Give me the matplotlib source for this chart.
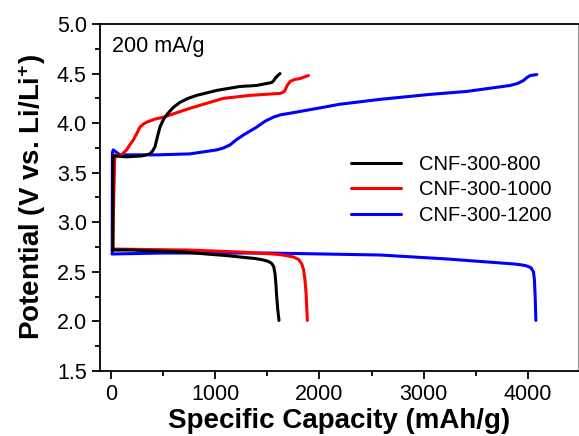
import numpy as np
import matplotlib as mpl
mpl.use('Agg')
import matplotlib.pyplot as plt
from matplotlib.ticker import MultipleLocator

mpl.rcParams['font.family'] = ['Liberation Sans', 'DejaVu Sans']
mpl.rcParams['mathtext.fontset'] = 'custom'
mpl.rcParams['mathtext.rm'] = 'Liberation Sans:bold'
mpl.rcParams['mathtext.default'] = 'rm'

# charge curves (capacity mAh/g, potential V)
cap_800_ch = [18, 19, 25, 150, 300, 374, 400, 422, 445, 470, 505, 547, 600, 662, 740, 822, 1014, 1238,
              1398, 1542, 1562, 1574, 1600, 1622]
v_800_ch = [2.72, 3.66, 3.67, 3.66, 3.67, 3.69, 3.72, 3.76, 3.86, 3.96, 4.04, 4.10, 4.16, 4.21, 4.25, 4.28,
            4.33, 4.37, 4.38, 4.41, 4.43, 4.45, 4.48, 4.50]
cap_1000_ch = [18, 26, 36, 45, 90, 120, 150, 180, 214, 250, 278, 310, 342, 420, 502, 758, 1078, 1334, 1622,
               1650, 1670, 1690, 1718, 1760, 1814, 1894]
v_1000_ch = [2.73, 3.20, 3.64, 3.68, 3.67, 3.70, 3.73, 3.78, 3.83, 3.90, 3.96, 3.99, 4.01, 4.04, 4.06, 4.15,
             4.25, 4.28, 4.30, 4.31, 4.33, 4.38, 4.42, 4.44, 4.45, 4.48]
cap_1200_ch = [12, 14, 22, 86, 438, 758, 1014, 1080, 1142, 1200, 1270, 1398, 1480, 1558, 1630, 1718, 2037,
               2191, 2582, 3061, 3414, 3829, 3900, 3957, 3990, 4021, 4085]
v_1200_ch = [2.69, 3.70, 3.73, 3.68, 3.68, 3.69, 3.73, 3.75, 3.78, 3.83, 3.88, 3.96, 4.02, 4.06, 4.085, 4.10,
             4.16, 4.19, 4.24, 4.29, 4.32, 4.38, 4.40, 4.43, 4.46, 4.48, 4.49]

# discharge curves
cap_800_dis = [14, 200, 438, 700, 918, 1100, 1238, 1380, 1462, 1510, 1542, 1562, 1574, 1582, 1590, 1600, 1612]
v_800_dis = [2.72, 2.72, 2.71, 2.70, 2.68, 2.665, 2.65, 2.635, 2.62, 2.605, 2.585, 2.55, 2.48, 2.38, 2.25,
             2.12, 2.01]
cap_1000_dis = [14, 758, 1238, 1558, 1650, 1750, 1800, 1830, 1848, 1862, 1872, 1878, 1884]
v_1000_dis = [2.73, 2.72, 2.70, 2.68, 2.67, 2.65, 2.625, 2.58, 2.52, 2.41, 2.28, 2.14, 2.01]
cap_1200_dis = [10, 500, 1500, 2582, 3222, 3861, 3940, 3989, 4030, 4053, 4062, 4069, 4076]
v_1200_dis = [2.68, 2.69, 2.69, 2.67, 2.63, 2.58, 2.57, 2.56, 2.54, 2.50, 2.42, 2.25, 2.01]

labels = ['CNF-300-800', 'CNF-300-1000', 'CNF-300-1200']

fig = plt.figure(figsize=(5.79, 4.36), dpi=100)
ax = fig.add_axes([100 / 579, 1 - 371 / 436, 478 / 579, 347 / 436])

kw = dict(lw=2.2, solid_joinstyle='round', solid_capstyle='round')
hb, = ax.plot(cap_1200_ch, v_1200_ch, color='b', **kw)
ax.plot(cap_1200_dis, v_1200_dis, color='b', **kw)
hr, = ax.plot(cap_1000_ch, v_1000_ch, color='r', **kw)
ax.plot(cap_1000_dis, v_1000_dis, color='r', **kw)
hk, = ax.plot(cap_800_ch, v_800_ch, color='k', **kw)
ax.plot(cap_800_dis, v_800_dis, color='k', **kw)

ax.set_xlim(-105, 4480)
ax.set_ylim(1.5, 5.0)
ax.xaxis.set_major_locator(MultipleLocator(1000))
ax.xaxis.set_minor_locator(MultipleLocator(500))
ax.yaxis.set_major_locator(MultipleLocator(0.5))
ax.yaxis.set_minor_locator(MultipleLocator(0.25))
ax.tick_params(which='both', direction='out', labelsize=15.5, width=1.3)
ax.tick_params(which='major', length=6)
ax.tick_params(which='minor', length=3.5)
ax.yaxis.set_major_formatter(mpl.ticker.FormatStrFormatter('%.1f'))
for s in ax.spines.values():
    s.set_linewidth(1.3)
ax.spines['right'].set_color('0.6')
ax.spines['right'].set_linewidth(0.8)

ax.set_xlabel('Specific Capacity (mAh/g)', fontsize=20, fontweight='bold', labelpad=2)
ax.set_ylabel('Potential (V vs. Li/Li$^{+}$)', fontsize=20, fontweight='bold', labelpad=6)

ax.text(0.025, 0.935, '200 mA/g', transform=ax.transAxes, fontsize=15.5, va='center')

ax.legend([hk, hr, hb], labels, frameon=False, fontsize=14.5, handlelength=2.5, handletextpad=0.9,
          labelspacing=0.32, loc='upper left', bbox_to_anchor=(0.487, 0.675))

fig.savefig('out.png', dpi=100)
